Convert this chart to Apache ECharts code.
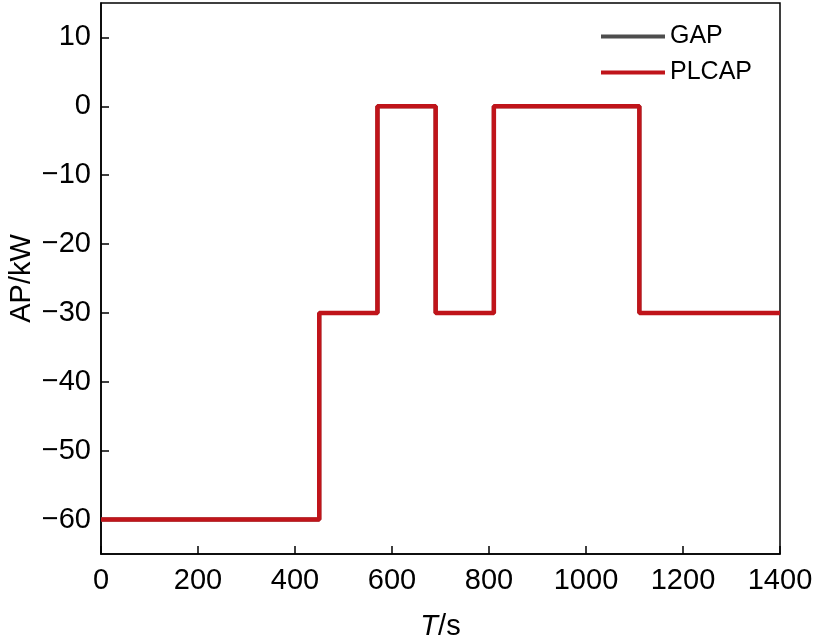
<!DOCTYPE html>
<html>
<head>
<meta charset="utf-8">
<script src="https://cdn.jsdelivr.net/npm/echarts@6/dist/echarts.min.js"></script>
<style>
  html, body { margin: 0; padding: 0; background: #fff; }
  #chart { width: 829px; height: 639px; }
</style>
</head>
<body>
<div id="chart"></div>
<script>
// Step profile: time (s) and active power (kW), corners listed twice for vertical edges
const timeS = [0, 450, 450, 570, 570, 690, 690, 810, 810, 1110, 1110, 1400]
const gapKW = [-60, -60, -30, -30, 0, 0, -30, -30, 0, 0, -30, -30]
const plcapKW = [-60, -60, -30, -30, 0, 0, -30, -30, 0, 0, -30, -30]
const xTicks = [0, 200, 400, 600, 800, 1000, 1200, 1400]
const yTicks = [-60, -50, -40, -30, -20, -10, 0, 10]

const GAP_COLOR = '#4d4d4d'
const PLCAP_COLOR = '#c0141a'
const FONT = 'Liberation Sans, Arial, sans-serif'
const AXIS_FONT = 29

function fmtMinus(v) {
  return v < 0 ? '\u2212' + Math.abs(v) : String(v)
}

const chart = echarts.init(document.getElementById('chart'), null, { renderer: 'canvas' })

chart.setOption({
  backgroundColor: '#fff',
  animation: false,
  grid: {
    left: 101,
    right: 49,
    top: 3,
    bottom: 85,
    outerBoundsMode: 'none',
    containLabel: false,
    show: true,
    borderColor: '#000',
    borderWidth: 1.5,
  },
  legend: {
    orient: 'vertical',
    left: 596,
    top: 19,
    icon: 'rect',
    itemWidth: 64,
    itemHeight: 4,
    itemGap: 11,
    textStyle: { fontSize: 25, color: '#000', fontFamily: FONT },
    data: ['GAP', 'PLCAP'],
  },
  xAxis: {
    type: 'value',
    min: 0,
    max: 1400,
    interval: 200,
    name: '{i|T}/s',
    nameLocation: 'middle',
    nameGap: 58,
    nameMoveOverlap: false,
    nameTextStyle: {
      fontSize: AXIS_FONT,
      color: '#000',
      fontFamily: FONT,
      rich: { i: { fontStyle: 'italic', fontSize: AXIS_FONT, fontFamily: FONT } },
    },
    axisLine: { show: true, onZero: false, lineStyle: { color: '#000', width: 1.5 } },
    axisTick: { show: true, inside: true, length: 8, customValues: xTicks, lineStyle: { color: '#000', width: 1.5 } },
    axisLabel: {
      fontSize: AXIS_FONT,
      color: '#000',
      fontFamily: FONT,
      margin: 12,
      customValues: xTicks,
      formatter: (v) => String(v),
    },
    splitLine: { show: false },
  },
  yAxis: {
    type: 'value',
    min: -65,
    max: 15,
    name: 'AP/kW',
    nameLocation: 'middle',
    nameGap: 65,
    nameMoveOverlap: false,
    nameTextStyle: { fontSize: AXIS_FONT, color: '#000', fontFamily: FONT },
    axisLine: { show: true, onZero: false, lineStyle: { color: '#000', width: 1.5 } },
    axisTick: { show: true, inside: true, length: 8, customValues: yTicks, lineStyle: { color: '#000', width: 1.5 } },
    axisLabel: {
      fontSize: AXIS_FONT,
      color: '#000',
      fontFamily: FONT,
      margin: 10,
      customValues: yTicks,
      formatter: fmtMinus,
    },
    splitLine: { show: false },
  },
  series: [
    {
      name: 'GAP',
      type: 'line',
      data: timeS.map((t, i) => [t, gapKW[i]]),
      symbol: 'none',
      lineStyle: { color: GAP_COLOR, width: 4 },
      itemStyle: { color: GAP_COLOR },
      z: 2,
    },
    {
      name: 'PLCAP',
      type: 'line',
      data: timeS.map((t, i) => [t, plcapKW[i]]),
      symbol: 'none',
      lineStyle: { color: PLCAP_COLOR, width: 4.5 },
      itemStyle: { color: PLCAP_COLOR },
      z: 3,
    },
  ],
})
</script>
</body>
</html>
